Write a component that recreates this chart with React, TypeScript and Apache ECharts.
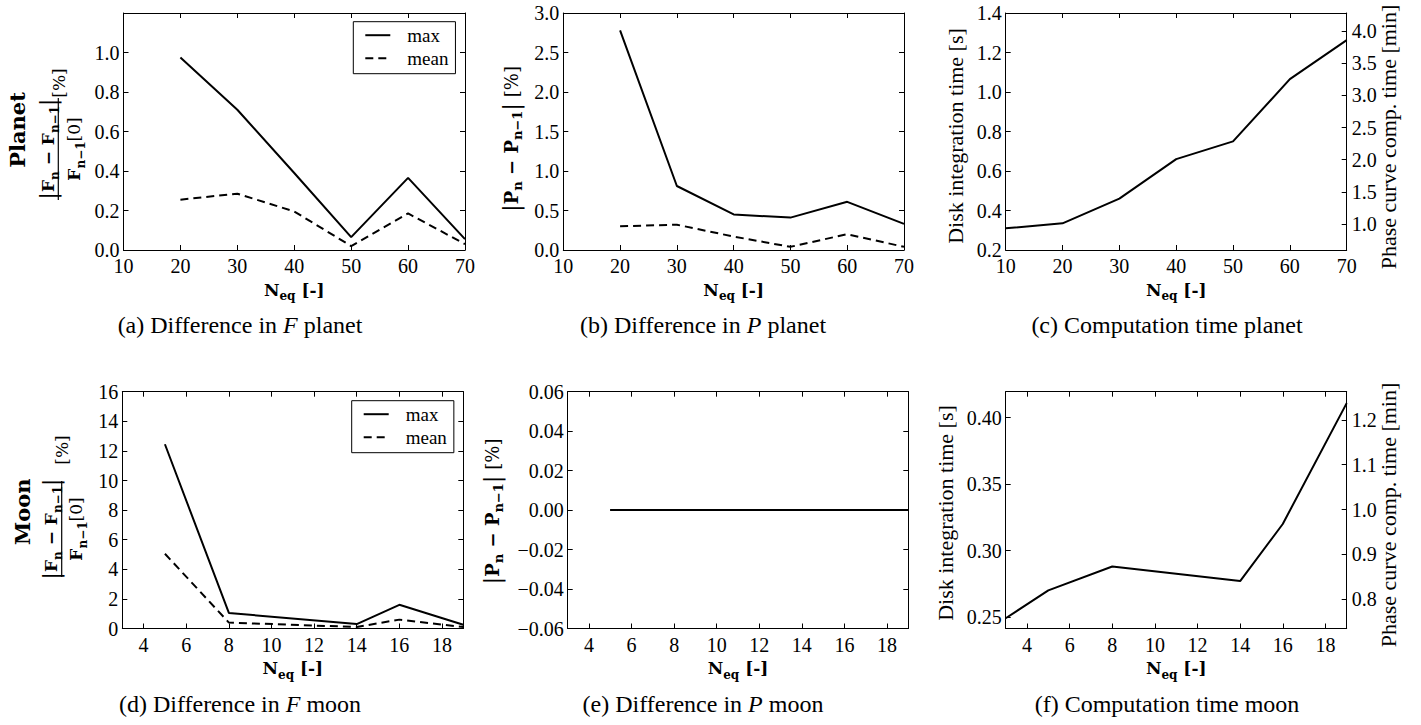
import React, { useEffect, useRef } from 'react';
import * as echarts from 'echarts';

// ---------- data ----------
const planetN = [20, 30, 40, 50, 60, 70];
const planetFMax = [0.975, 0.71, 0.39, 0.065, 0.365, 0.055];
const planetFMean = [0.255, 0.285, 0.195, 0.02, 0.185, 0.03];
const planetPMax = [2.78, 0.81, 0.45, 0.41, 0.61, 0.33];
const planetPMean = [0.3, 0.32, 0.17, 0.04, 0.2, 0.04];
const planetTimeN = [10, 20, 30, 40, 50, 60, 70];
const planetDiskTime = [0.31, 0.335, 0.46, 0.66, 0.75, 1.065, 1.263];

const moonN = [5, 8, 14, 16, 19];
const moonFMax = [12.45, 1.05, 0.3, 1.6, 0.25];
const moonFMean = [5.05, 0.4, 0.1, 0.6, 0.1];
const moonPMax = [0, 0, 0, 0, 0];
const moonPMean = [0, 0, 0, 0, 0];
const moonTimeN = [3, 5, 8, 14, 16, 19];
const moonDiskTime = [0.249, 0.27, 0.288, 0.277, 0.32, 0.411];

const moonXTicks = [4, 6, 8, 10, 12, 14, 16, 18];
const planetPhaseTicks = [1.0, 1.5, 2.0, 2.5, 3.0, 3.5, 4.0];
const moonDiskTicks = [0.25, 0.3, 0.35, 0.4];
const moonPhaseTicks = [0.8, 0.9, 1.0, 1.1, 1.2];

const captionLetters = ['(a)', '(b)', '(c)', '(d)', '(e)', '(f)'];
const captionPre = ['Difference in ', 'Difference in ', 'Computation time planet', 'Difference in ', 'Difference in ', 'Computation time moon'];
const captionItalic = ['F', 'P', '', 'F', 'P', ''];
const captionPost = [' planet', ' planet', '', ' moon', ' moon', ''];

// ---------- layout / style ----------
const SERIF = '"Liberation Serif", "Times New Roman", serif';
const MATH = '"DejaVu Serif", serif';
const BLACK = '#000';

const GRIDS = [
  { left: 123.5, top: 13, width: 341.5, height: 237 },
  { left: 563.3, top: 13, width: 340.7, height: 237 },
  { left: 1005.7, top: 13, width: 341, height: 237 },
  { left: 122.3, top: 391.7, width: 341, height: 236.8 },
  { left: 567.7, top: 391.7, width: 340.6, height: 236.8 },
  { left: 1005.7, top: 391.7, width: 341, height: 236.8 },
];
const CAPTION_X = [240, 703, 1167, 240, 703, 1167];
const CAPTION_Y = [325, 325, 325, 704, 704, 704];

const axisLine = { show: true, onZero: false, lineStyle: { color: BLACK, width: 1 } };
const tickBase = { show: true, inside: true, length: 5, lineStyle: { color: BLACK, width: 1 } };
const labelBase = { color: BLACK, fontFamily: SERIF, fontSize: 20 };

function xAxisPair(g: number, min: number, max: number, interval?: number, custom?: number[]) {
  const tick: any = { ...tickBase };
  const lab: any = { ...labelBase, margin: 6, formatter: (v: number) => String(v) };
  if (custom) {
    tick.customValues = custom;
    lab.customValues = custom;
  }
  const base: any = { type: 'value', gridIndex: g, min, max, splitLine: { show: false }, axisLine, axisTick: tick };
  if (interval) base.interval = interval;
  return [
    { ...base, position: 'bottom', axisLabel: lab },
    { ...base, position: 'top', axisLabel: { show: false } },
  ];
}

function yAxisSame(g: number, min: number, max: number, interval: number, fmt: (v: number) => string, hideMax = false) {
  const base: any = { type: 'value', gridIndex: g, min, max, interval, splitLine: { show: false }, axisLine, axisTick: tickBase };
  return [
    { ...base, position: 'left', axisLabel: { ...labelBase, margin: 4, formatter: fmt, showMaxLabel: !hideMax } },
    { ...base, position: 'right', axisLabel: { show: false } },
  ];
}

function yAxisTwin(g: number, lmin: number, lmax: number, lcustom: number[] | null, linterval: number | null, lfmt: (v: number) => string,
  rmin: number, rmax: number, rcustom: number[], rfmt: (v: number) => string) {
  const left: any = { type: 'value', gridIndex: g, min: lmin, max: lmax, position: 'left', splitLine: { show: false }, axisLine,
    axisTick: { ...tickBase }, axisLabel: { ...labelBase, margin: 4, formatter: lfmt } };
  if (lcustom) {
    left.axisTick.customValues = lcustom;
    left.axisLabel.customValues = lcustom;
  }
  if (linterval) left.interval = linterval;
  const right: any = { type: 'value', gridIndex: g, min: rmin, max: rmax, position: 'right', splitLine: { show: false }, axisLine,
    axisTick: { ...tickBase, customValues: rcustom }, axisLabel: { ...labelBase, margin: 5, formatter: rfmt, customValues: rcustom } };
  return [left, right];
}

const f1 = (v: number) => v.toFixed(1);
const f2 = (v: number) => v.toFixed(2);
const f0 = (v: number) => String(Math.round(v));
const fSigned = (v: number) => (Math.abs(v) < 1e-9 ? '0.00' : v.toFixed(2).replace('-', '\u2212'));

const pairs = (xs: number[], ys: number[]) => xs.map((x, i) => [x, ys[i]]);
const DASH = [8, 5];
function line(g: number, name: string, data: number[][], dashed: boolean) {
  return {
    type: 'line', name, xAxisIndex: 2 * g, yAxisIndex: 2 * g, data, symbol: 'none', silent: true, z: 3,
    lineStyle: { color: BLACK, width: 2, type: dashed ? DASH : 'solid' },
    itemStyle: { color: BLACK },
  };
}

// rich text styles for bold math
function mathRich(size: number) {
  const lh = Math.round(size * 1.45);
  return {
    b: { fontFamily: MATH, fontWeight: 'bold', fontSize: size, lineHeight: lh, verticalAlign: 'middle', fill: BLACK },
    s: { fontFamily: MATH, fontWeight: 'bold', fontSize: Math.round(size * 0.7), lineHeight: Math.round(size * 0.7), verticalAlign: 'bottom', fill: BLACK },
    bar: { fontFamily: MATH, fontSize: Math.round(size * 1.3), lineHeight: lh, verticalAlign: 'middle', fill: BLACK },
    r: { fontFamily: MATH, fontSize: size, lineHeight: lh, verticalAlign: 'middle', fill: BLACK },
  };
}

function txt(x: number, y: number, text: string, style: any, rotated: boolean) {
  return {
    type: 'text', x, y, rotation: rotated ? Math.PI / 2 : 0, silent: true, z: 10,
    style: { text, align: 'center', verticalAlign: 'middle', textAlign: 'center', textVerticalAlign: 'middle', fill: BLACK, ...style },
  };
}

function fractionLabel(title: string, titleX: number, titleY: number, numX: number, barX: number, denX: number, cy: number, pctX: number, pctY: number, halfLen: number) {
  const rich = mathRich(17);
  return [
    txt(titleX, titleY, title, { fontFamily: MATH, fontWeight: 'bold', fontSize: 21 }, true),
    txt(numX, cy, '{bar||}{b|F}{s|n}{b| \u2212 F}{s|n\u22121}{bar||}', { rich }, true),
    { type: 'line', silent: true, z: 10, shape: { x1: barX, y1: cy - halfLen, x2: barX, y2: cy + halfLen }, style: { stroke: BLACK, lineWidth: 1.2 } },
    txt(denX, cy, '{b|F}{s|n\u22121}{r|[0]}', { rich }, true),
    txt(pctX, pctY, '{r|[%]}', { rich }, true),
  ];
}

function buildOption() {
  const xAxes = [
    ...xAxisPair(0, 10, 70, 10),
    ...xAxisPair(1, 10, 70, 10),
    ...xAxisPair(2, 10, 70, 10),
    ...xAxisPair(3, 3, 19, undefined, moonXTicks),
    ...xAxisPair(4, 3, 19, undefined, moonXTicks),
    ...xAxisPair(5, 3, 19, undefined, moonXTicks),
  ];
  const yAxes = [
    ...yAxisSame(0, 0, 1.2, 0.2, f1, true),
    ...yAxisSame(1, 0, 3.0, 0.5, f1),
    ...yAxisTwin(2, 0.2, 1.4, null, 0.2, f1, 0.596, 4.28, planetPhaseTicks, f1),
    ...yAxisSame(3, 0, 16, 2, f0),
    ...yAxisSame(4, -0.06, 0.06, 0.02, fSigned),
    ...yAxisTwin(5, 0.2413, 0.4196, moonDiskTicks, null, f2, 0.7345, 1.263, moonPhaseTicks, f1),
  ];
  const series = [
    line(0, 'max', pairs(planetN, planetFMax), false),
    line(0, 'mean', pairs(planetN, planetFMean), true),
    line(1, 'max', pairs(planetN, planetPMax), false),
    line(1, 'mean', pairs(planetN, planetPMean), true),
    line(2, 'time', pairs(planetTimeN, planetDiskTime), false),
    line(3, 'max', pairs(moonN, moonFMax), false),
    line(3, 'mean', pairs(moonN, moonFMean), true),
    line(4, 'max', pairs(moonN, moonPMax), false),
    line(4, 'mean', pairs(moonN, moonPMean), true),
    line(5, 'time', pairs(moonTimeN, moonDiskTime), false),
  ];

  const legendBase = {
    data: ['max', 'mean'], orient: 'vertical', selectedMode: false,
    itemWidth: 25, itemHeight: 14, itemGap: 4,
    padding: [4, 7, 6, 11],
    borderColor: BLACK, borderWidth: 1, borderRadius: 0, backgroundColor: '#fff',
    itemStyle: { color: 'rgba(0,0,0,0)', borderColor: 'rgba(0,0,0,0)', borderWidth: 0 },
    lineStyle: { color: BLACK, width: 2 },
    textStyle: { color: BLACK, fontFamily: SERIF, fontSize: 19, lineHeight: 14, padding: [0, 0, 0, 12] },
  };
  const legends = [
    { ...legendBase, left: 353.3, top: 21.7 },
    { ...legendBase, left: 351.7, top: 400.7 },
  ];

  const graphics: any[] = [];
  // captions
  for (let i = 0; i < 6; i++) {
    const rich = {
      r: { fontFamily: SERIF, fontSize: 24, fill: BLACK },
      i: { fontFamily: SERIF, fontSize: 24, fontStyle: 'italic', fill: BLACK },
    };
    let t = `{r|${captionLetters[i]} ${captionPre[i]}}`;
    if (captionItalic[i]) t += `{i|${captionItalic[i]}}{r|${captionPost[i]}}`;
    graphics.push(txt(CAPTION_X[i], CAPTION_Y[i], t, { rich }, false));
  }
  // x axis titles
  const neqRich = mathRich(17);
  for (let i = 0; i < 6; i++) {
    const gr = GRIDS[i];
    graphics.push(txt(gr.left + gr.width / 2, gr.top + gr.height + 39.5, '{b|N}{s|eq}{b| [-]}', { rich: neqRich }, false));
  }
  // y axis titles
  graphics.push(...fractionLabel('Planet', 17.5, 130, 48, 58.3, 74, 149, 58.5, 83, 51));
  graphics.push(...fractionLabel('Moon', 22.5, 511.7, 51, 61.7, 76, 529, 62, 450, 48));
  const pRich = mathRich(18);
  const pText = '{bar||}{b|P}{s|n}{b| \u2212 P}{s|n\u22121}{bar||}{r| [%]}';
  graphics.push(txt(511, 139, pText, { rich: pRich }, true));
  graphics.push(txt(492, 511.5, pText, { rich: pRich }, true));
  const plainStyle = { fontFamily: SERIF, fontSize: 22 };
  graphics.push(txt(955, 136, 'Disk integration time [s]', plainStyle, true));
  graphics.push(txt(1388, 137, 'Phase curve comp. time [min]', plainStyle, true));
  graphics.push(txt(945, 513, 'Disk integration time [s]', plainStyle, true));
  graphics.push(txt(1388, 515, 'Phase curve comp. time [min]', plainStyle, true));

  return {
    animation: false,
    backgroundColor: '#fff',
    grid: GRIDS.map((g) => ({ ...g, containLabel: false, outerBoundsMode: 'none' })),
    xAxis: xAxes,
    yAxis: yAxes,
    series,
    legend: legends,
    graphic: { elements: graphics },
  };
}

export default function App() {
  const ref = useRef<HTMLDivElement>(null);
  useEffect(() => {
    if (!ref.current) return;
    const chart = echarts.init(ref.current, undefined, { renderer: 'svg' });
    chart.setOption(buildOption() as any);
    return () => chart.dispose();
  }, []);
  return <div ref={ref} style={{ position: 'fixed', left: 0, top: 0, width: 1421, height: 725, background: '#fff' }} />;
}
